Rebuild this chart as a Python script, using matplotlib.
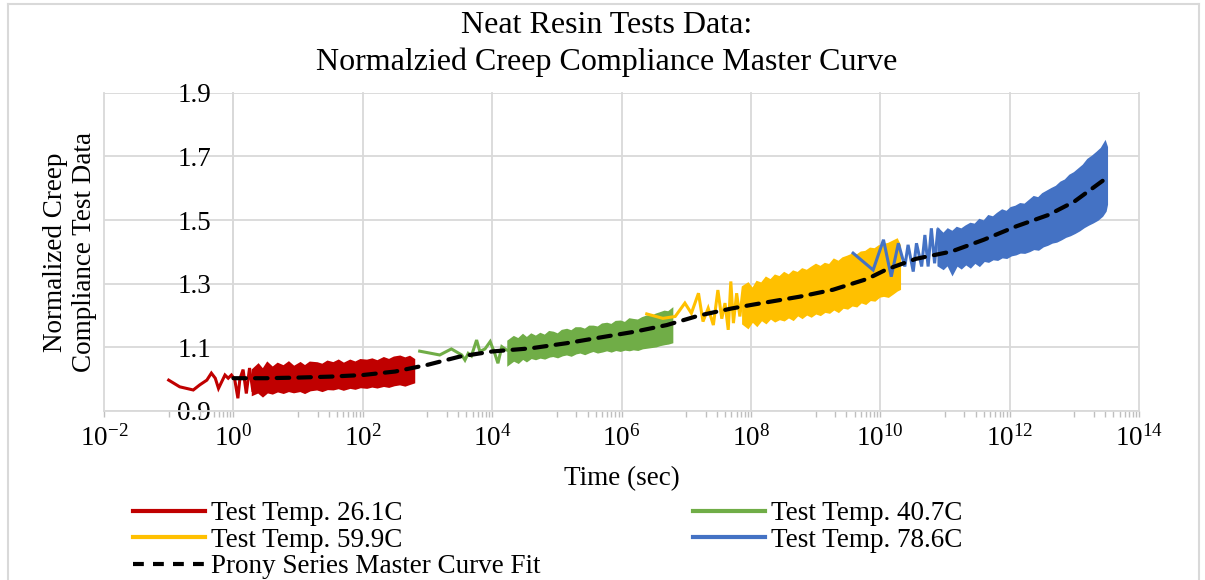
import numpy as np
import matplotlib
matplotlib.use("Agg")
import matplotlib.pyplot as plt
from matplotlib.lines import Line2D
from matplotlib.ticker import FixedLocator, FixedFormatter, NullFormatter

plt.rcParams['font.family'] = ['Liberation Serif', 'DejaVu Serif']
plt.rcParams['mathtext.fontset'] = 'custom'
plt.rcParams['mathtext.rm'] = 'Liberation Serif'
plt.rcParams['mathtext.it'] = 'Liberation Serif:italic'
plt.rcParams['mathtext.bf'] = 'Liberation Serif:bold'

# ---------------- data (log10 of time in sec, normalized compliance) ----------------
# Test Temp. 26.1C
red_logt = [-1.00, -0.83, -0.62, -0.52, -0.41, -0.34, -0.28, -0.23, -0.18, -0.13, -0.08,
            -0.03, 0.02, 0.07, 0.10, 0.15, 0.20, 0.25, 0.30]
red_y = [0.997, 0.976, 0.966, 0.982, 0.997, 1.019, 1.003, 0.971, 0.992, 1.013, 1.003,
         1.013, 1.000, 0.940, 1.000, 1.030, 0.955, 1.035, 0.965]
red_band_logt = [0.30, 0.38, 0.45, 0.52, 0.60, 0.68, 0.77, 0.85, 0.93, 1.03, 1.10, 1.18,
                 1.29, 1.37, 1.45, 1.54, 1.62, 1.70, 1.80, 1.88, 1.96, 2.06, 2.14, 2.22,
                 2.32, 2.40, 2.48, 2.57, 2.65, 2.72, 2.78]
red_band_lo = [0.955, 0.962, 0.950, 0.962, 0.958, 0.965, 0.960, 0.966, 0.962, 0.966, 0.960,
               0.968, 0.971, 0.966, 0.972, 0.971, 0.975, 0.970, 0.976, 0.973, 0.978, 0.976,
               0.980, 0.977, 0.982, 0.979, 0.984, 0.987, 0.983, 0.988, 0.992]
red_band_hi = [1.030, 1.045, 1.028, 1.050, 1.035, 1.048, 1.040, 1.052, 1.038, 1.050, 1.040,
               1.052, 1.050, 1.045, 1.055, 1.050, 1.058, 1.048, 1.058, 1.052, 1.060, 1.058,
               1.062, 1.056, 1.066, 1.060, 1.068, 1.071, 1.065, 1.070, 1.062]

# Test Temp. 40.7C
green_logt = [2.88, 3.19, 3.37, 3.53, 3.58, 3.63, 3.68, 3.76, 3.81, 3.89, 3.97, 4.04,
              4.09, 4.15, 4.22, 4.25]
green_y = [1.088, 1.076, 1.095, 1.076, 1.060, 1.081, 1.073, 1.123, 1.087, 1.095, 1.118,
           1.081, 1.050, 1.102, 1.092, 1.090]
green_band_logt = [4.25, 4.33, 4.40, 4.47, 4.53, 4.60, 4.67, 4.74, 4.81, 4.88, 4.94, 5.01,
                   5.08, 5.15, 5.22, 5.29, 5.36, 5.43, 5.50, 5.56, 5.63, 5.70, 5.77, 5.84,
                   5.91, 5.98, 6.05, 6.12, 6.18, 6.25, 6.32, 6.39, 6.46, 6.53, 6.59, 6.66,
                   6.72, 6.77]
green_band_lo = [1.050, 1.062, 1.055, 1.068, 1.060, 1.070, 1.066, 1.071, 1.068, 1.074, 1.076,
                 1.072, 1.078, 1.081, 1.077, 1.084, 1.087, 1.082, 1.088, 1.092, 1.087, 1.090,
                 1.094, 1.090, 1.095, 1.092, 1.096, 1.094, 1.097, 1.095, 1.100, 1.102, 1.104,
                 1.106, 1.110, 1.113, 1.115, 1.118]
green_band_hi = [1.120, 1.132, 1.125, 1.138, 1.128, 1.140, 1.133, 1.142, 1.136, 1.148, 1.146,
                 1.140, 1.152, 1.155, 1.150, 1.160, 1.160, 1.155, 1.165, 1.165, 1.162, 1.172,
                 1.174, 1.170, 1.180, 1.181, 1.176, 1.188, 1.186, 1.184, 1.192, 1.197, 1.195,
                 1.203, 1.207, 1.212, 1.210, 1.218]

# Test Temp. 59.9C
yellow_logt = [6.39, 6.64, 6.83, 6.98, 7.08, 7.19, 7.26, 7.34, 7.42, 7.49, 7.55, 7.60,
               7.65, 7.69, 7.73, 7.78, 7.83, 7.88]
yellow_y = [1.205, 1.191, 1.197, 1.239, 1.207, 1.270, 1.181, 1.223, 1.170, 1.280, 1.190,
            1.239, 1.155, 1.307, 1.176, 1.270, 1.197, 1.286]
yellow_band_logt = [7.88, 7.95, 8.02, 8.09, 8.16, 8.23, 8.30, 8.37, 8.44, 8.51, 8.58, 8.65,
                    8.72, 8.79, 8.86, 8.93, 9.00, 9.07, 9.14, 9.21, 9.28, 9.35, 9.42, 9.49,
                    9.56, 9.63, 9.70, 9.77, 9.84, 9.91, 9.98, 10.05, 10.12, 10.19, 10.25,
                    10.29]
yellow_band_lo = [1.176, 1.165, 1.186, 1.172, 1.190, 1.180, 1.195, 1.185, 1.192, 1.188, 1.198,
                  1.190, 1.205, 1.196, 1.207, 1.200, 1.210, 1.205, 1.215, 1.212, 1.223, 1.215,
                  1.228, 1.225, 1.235, 1.232, 1.245, 1.240, 1.252, 1.250, 1.262, 1.265, 1.262,
                  1.272, 1.281, 1.285]
yellow_band_hi = [1.291, 1.300, 1.281, 1.305, 1.300, 1.318, 1.310, 1.325, 1.320, 1.333, 1.325,
                  1.338, 1.333, 1.345, 1.340, 1.350, 1.359, 1.352, 1.362, 1.358, 1.375, 1.368,
                  1.380, 1.385, 1.391, 1.388, 1.398, 1.400, 1.410, 1.408, 1.418, 1.422, 1.425,
                  1.432, 1.438, 1.420]

# Test Temp. 78.6C
blue_logt = [9.58, 9.89, 10.05, 10.17, 10.28, 10.38, 10.43, 10.51, 10.56, 10.64, 10.69,
             10.74, 10.79, 10.84, 10.89]
blue_y = [1.396, 1.343, 1.438, 1.322, 1.427, 1.354, 1.422, 1.338, 1.427, 1.354, 1.453,
          1.354, 1.474, 1.364, 1.469]
blue_band_logt = [10.90, 10.97, 11.04, 11.11, 11.18, 11.25, 11.32, 11.39, 11.46, 11.53, 11.60,
                  11.67, 11.74, 11.81, 11.88, 11.95, 12.02, 12.09, 12.16, 12.23, 12.30, 12.37,
                  12.44, 12.51, 12.58, 12.65, 12.72, 12.79, 12.86, 12.93, 13.00, 13.07, 13.14,
                  13.21, 13.28, 13.35, 13.42, 13.47, 13.49]
blue_band_lo = [1.359, 1.350, 1.364, 1.335, 1.362, 1.352, 1.365, 1.355, 1.370, 1.360, 1.375,
                1.372, 1.380, 1.378, 1.386, 1.384, 1.392, 1.395, 1.401, 1.400, 1.405, 1.412,
                1.410, 1.420, 1.425, 1.432, 1.435, 1.442, 1.450, 1.455, 1.462, 1.470, 1.480,
                1.488, 1.495, 1.503, 1.515, 1.530, 1.550]
blue_band_hi = [1.469, 1.455, 1.470, 1.462, 1.475, 1.470, 1.480, 1.488, 1.485, 1.500, 1.495,
                1.512, 1.508, 1.520, 1.530, 1.525, 1.538, 1.542, 1.550, 1.548, 1.560, 1.572,
                1.568, 1.582, 1.590, 1.598, 1.605, 1.618, 1.625, 1.640, 1.648, 1.660, 1.672,
                1.690, 1.700, 1.712, 1.725, 1.742, 1.730]

# Prony Series Master Curve Fit
prony_logt = [0.0, 0.5, 1.0, 1.5, 2.0, 2.5, 3.0, 3.5, 4.0, 4.6, 5.15, 5.7, 6.2, 6.7, 7.2,
              7.7, 8.0, 8.75, 9.27, 9.8, 10.1, 10.55, 11.1, 11.6, 12.1, 12.6, 13.0, 13.45]
prony_y = [1.003, 1.003, 1.005, 1.008, 1.013, 1.024, 1.045, 1.071, 1.087, 1.097, 1.113,
           1.132, 1.149, 1.170, 1.200, 1.222, 1.233, 1.259, 1.281, 1.315, 1.345, 1.378,
           1.401, 1.438, 1.480, 1.516, 1.558, 1.625]

series_labels = ["Test Temp. 26.1C", "Test Temp. 40.7C", "Test Temp. 59.9C",
                 "Test Temp. 78.6C", "Prony Series Master Curve Fit"]
x_tick_exps = [-2, 0, 2, 4, 6, 8, 10, 12, 14]
y_ticks = [0.9, 1.1, 1.3, 1.5, 1.7, 1.9]
y_tick_labels = ["0.9", "1.1", "1.3", "1.5", "1.7", "1.9"]

title_text = "Neat Resin Tests Data:\nNormalzied Creep Compliance Master Curve"
xlabel_text = "Time (sec)"
ylabel_text = "Normalized Creep\nCompliance Test Data"

colors = {"red": "#C00000", "green": "#70AD47", "yellow": "#FFC000", "blue": "#4472C4"}
grid_c = "#D9D9D9"
FS = 19.5

# ---------------- figure ----------------
W, H = 1205, 580
fig = plt.figure(figsize=(W / 100, H / 100), dpi=100)
ax_l, ax_r, ax_t, ax_b = 104, 1139, 92.7, 411
ax = fig.add_axes([ax_l / W, 1 - ax_b / H, (ax_r - ax_l) / W, (ax_b - ax_t) / H])

ax.set_xscale('log')
ax.set_xlim(10.0 ** x_tick_exps[0], 10.0 ** x_tick_exps[-1])
ax.set_ylim(y_ticks[0], y_ticks[-1])

def T(a):
    return 10.0 ** np.asarray(a, dtype=float)

lw = 2.2
for key, lt, ly, bt, blo, bhi in [
    ("red", red_logt, red_y, red_band_logt, red_band_lo, red_band_hi),
    ("green", green_logt, green_y, green_band_logt, green_band_lo, green_band_hi),
    ("yellow", yellow_logt, yellow_y, yellow_band_logt, yellow_band_lo, yellow_band_hi),
    ("blue", blue_logt, blue_y, blue_band_logt, blue_band_lo, blue_band_hi),
]:
    c = colors[key]
    ax.plot(T(lt), ly, color=c, lw=lw, solid_joinstyle='miter', zorder=3)
    ax.fill_between(T(bt), blo, bhi, color=c, lw=2.2, edgecolor=c, joinstyle='miter',
                    zorder=3)

ax.plot(T(prony_logt), prony_y, color='black', lw=3.0, dashes=(3.0, 2.2),
        dash_capstyle='round', zorder=5)

# grid / axes
ax.xaxis.set_major_locator(FixedLocator([10.0 ** e for e in x_tick_exps]))
ax.xaxis.set_major_formatter(FixedFormatter([r'$\mathregular{10^{%d}}$' % e for e in x_tick_exps]))
minor = []
for e in range(x_tick_exps[0] + 1, x_tick_exps[-1], 2):
    for k in range(1, 10):
        minor.append(k * 10.0 ** e)
ax.xaxis.set_minor_locator(FixedLocator(minor))
ax.xaxis.set_minor_formatter(NullFormatter())
ax.set_yticks(y_ticks)
ax.set_yticklabels(y_tick_labels)

ax.grid(True, which='major', color=grid_c, lw=1.3, zorder=0)
ax.set_axisbelow(True)
for gl in ax.get_xgridlines() + ax.get_ygridlines():
    gl.set_clip_on(False)

for s in ['top', 'right']:
    ax.spines[s].set_visible(False)
ax.spines['bottom'].set_color(grid_c)
ax.spines['bottom'].set_linewidth(1.3)
ax.spines['left'].set_position(('data', 1.0))
ax.spines['left'].set_color(grid_c)
ax.spines['left'].set_linewidth(1.3)

ax.tick_params(axis='x', which='both', direction='out', color='#BFBFBF', width=1.0,
               length=4, labelsize=FS, pad=6)
ax.tick_params(axis='y', which='both', length=0, labelsize=FS, pad=16)

ax.set_xlabel(xlabel_text, fontsize=FS)
ax.xaxis.label.set_va('center')
ax.xaxis.set_label_coords(0.5, (ax_b - 479) / (ax_b - ax_t))
ax.set_ylabel(ylabel_text, fontsize=FS, linespacing=1.22)
ax.yaxis.label.set_va('center')
ax.yaxis.set_label_coords((70 - ax_l) / (ax_r - ax_l), (ax_b - 252) / (ax_b - ax_t))

fig.text(607 / W, 1 - 44 / H, title_text, ha='center', va='center', fontsize=23,
         linespacing=1.32)

# legend (row order: red/green, yellow/blue, prony)
h_red = Line2D([], [], color=colors["red"], lw=3)
h_green = Line2D([], [], color=colors["green"], lw=3)
h_yel = Line2D([], [], color=colors["yellow"], lw=3)
h_blue = Line2D([], [], color=colors["blue"], lw=3)
h_pr = Line2D([], [], color='black', lw=3, dashes=(2.6, 2.2))
leg = fig.legend([h_red, h_yel, h_pr, h_green, h_blue],
                 [series_labels[0], series_labels[2], series_labels[4], series_labels[1],
                  series_labels[3]],
                 ncol=2, loc='upper left', bbox_to_anchor=(133 / W, 1 - 501 / H),
                 frameon=False, fontsize=FS, handlelength=2.65, handletextpad=0.22,
                 labelspacing=0.06, columnspacing=5.65, borderpad=0, borderaxespad=0)

# chart border
for xs, ys in [((8, 1199), (4, 4)), ((8, 8), (4, 580)), ((1199, 1199), (4, 580))]:
    fig.add_artist(Line2D([x / W for x in xs], [1 - y / H for y in ys], color=grid_c, lw=1.5))

fig.savefig("out.png", dpi=100)
